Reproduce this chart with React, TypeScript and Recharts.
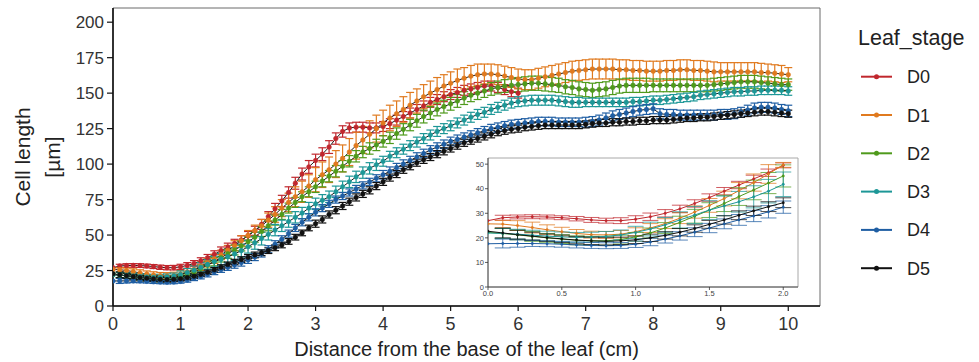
import React from 'react';
import { LineChart, Line, XAxis, YAxis, ErrorBar, ReferenceArea } from 'recharts';

// leaf stages and their colours
const stages = ['D0', 'D1', 'D2', 'D3', 'D4', 'D5'];
const colors = ['#c0272d', '#e07a1f', '#4f9a1c', '#1d9797', '#1f5ea3', '#111111'];

// main panel: cell length (µm) every 0.1 cm from the leaf base
const d0 = [
  27, 28.2, 28.5, 28.6, 28.5, 28.2, 27.8, 27.3, 27.0, 27.0,
  27.6, 28.6, 30.0, 31.8, 34.0, 36.4, 39.0, 41.5, 44.0, 46.5,
  49.5, 53, 57.5, 63, 68.5, 74, 80, 86.5, 93, 98,
  102.5, 107, 112, 118, 123, 125.5, 126, 126, 125.5, 125.5,
  126.5, 128.5, 131, 133.5, 136, 138.5, 141, 143.5, 145.5, 147.5,
  149, 150.5, 152, 153, 154, 155, 155, 154, 152.5, 151,
  150,
];
const d1 = [
  25.7, 25.6, 25, 24.2, 23.3, 22.5, 21.8, 21.3, 21.2, 21.5,
  22.5, 24, 25.8, 28, 30.5, 33.2, 36, 39.2, 42.5, 46,
  49.7, 53, 56.5, 60.5, 64.5, 69, 73, 77, 80.5, 84.5,
  89, 92.5, 96, 100, 104, 108.5, 113, 117, 121, 125,
  129, 132.5, 135.5, 138.5, 141.5, 144.5, 147.5, 150, 152.5, 155,
  157, 159, 160.5, 162, 163, 163.5, 163.5, 163, 162, 161,
  160, 159.5, 159.5, 160.5, 161.5, 162.5, 163.5, 164.5, 165.5, 166,
  166.5, 167, 167, 167, 167, 166.5, 166.5, 166, 166, 165.5,
  165.5, 165.5, 166, 166, 166.5, 166.5, 166, 166, 165.5, 165,
  165, 165, 165, 165, 165, 165, 164.5, 164.5, 164, 163.5,
  163,
];
const d2 = [
  22.2, 21.8, 21.2, 20.6, 20, 19.5, 19, 18.8, 18.8, 19.3,
  20.4, 22, 24, 26.3, 28.8, 31.3, 34, 36.8, 39.5, 42.3,
  45.2, 48.5, 52.5, 56.5, 60.5, 64.5, 69, 73, 77, 80.5,
  84, 88, 91.5, 95, 98.5, 102, 105.5, 108.5, 111, 113.5,
  116, 118.5, 121.5, 124.5, 127.5, 130.5, 133.5, 136, 138.5, 140.5,
  142.5, 144.5, 146.5, 148.5, 150, 151.5, 153, 154, 155, 155.5,
  156, 156.5, 157, 157, 156.5, 156, 155.5, 154.5, 154, 153,
  152.5, 152, 152.5, 153, 154, 155, 155.5, 155.5, 155.5, 155.5,
  155.5, 155.5, 155.5, 155.5, 155.5, 155.5, 155.5, 155.5, 155.5, 156,
  156.5, 157, 157.5, 158, 158, 158, 157.5, 157, 156.5, 156,
  156,
];
const d3 = [
  22, 21.8, 21.5, 21.1, 20.7, 20.4, 20.2, 20.3, 20.6, 21.2,
  22.2, 23.6, 25.3, 27.3, 29.3, 31.3, 33, 34.7, 36.7, 39,
  41.8, 44.5, 47.5, 50.5, 53.5, 56.5, 59.5, 62.5, 65.5, 69,
  72, 74.5, 77, 80.5, 84, 87.5, 91, 94, 97, 99.5,
  102, 105.5, 108, 110.5, 113, 115.5, 118, 120.5, 123, 125,
  127, 129, 131, 133, 135, 136.5, 138.5, 140, 141.5, 143,
  144, 144.5, 145, 145, 145, 145, 144.5, 144, 143.5, 143.5,
  143.5, 143.5, 143.5, 143.5, 143.5, 143.5, 143.5, 144, 144, 144.5,
  145, 145, 145.5, 146, 146.5, 147, 147.5, 148.5, 149, 149.5,
  150, 150.5, 151, 151, 151.5, 151.5, 152, 152, 152, 152,
  151.5,
];
const d4 = [
  17.6, 17.7, 17.7, 17.7, 17.6, 17.4, 17.1, 16.9, 16.8, 16.9,
  17.4, 18.3, 19.5, 20.8, 22.3, 24, 25.7, 27.3, 28.9, 30.6,
  32.5, 34.5, 37, 40, 43.5, 47, 51, 55, 59, 62.5,
  66, 69, 72, 75, 77.5, 80, 82.5, 85, 87.5, 90,
  92.5, 95, 97.5, 100, 102.5, 105, 107.5, 110, 112, 114,
  116, 117.5, 119, 120.5, 122, 123.5, 125, 126, 127, 128,
  128.5, 129, 129.5, 130, 130, 130, 129.5, 129.5, 129.5, 129.5,
  129.5, 130, 131, 132.5, 134, 135, 136, 137, 138, 138.5,
  139, 135.5, 135, 135, 134.5, 134.5, 134.5, 134.5, 134.5, 134.5,
  135, 135, 135.5, 136.5, 138, 139.5, 140, 140, 139.5, 138.5,
  137.5,
];
const d5 = [
  22.7, 22, 21.3, 20.7, 20.1, 19.6, 19.1, 18.8, 18.6, 18.8,
  19.2, 20, 21, 22.3, 23.8, 25.5, 27.3, 29.2, 31, 32.7,
  34.3, 36, 37.5, 39, 41, 43, 45.5, 48.5, 51.5, 55,
  58, 61, 64.5, 67.5, 70.5, 73.5, 76.5, 79, 81.5, 84.5,
  87.5, 90.5, 93, 96, 98.5, 101, 103, 105, 107, 109,
  111, 113, 115, 116.5, 118, 119.5, 121, 122.5, 123.5, 124.5,
  125, 126, 126.5, 127, 127.5, 127.5, 127.5, 127.5, 127.5, 127.5,
  128, 128.5, 129, 129, 129.5, 129.5, 130, 130, 130.5, 130.5,
  131, 131, 131, 131.5, 132, 132.5, 132.5, 133, 133, 133.5,
  134, 134.5, 135, 135.5, 136, 136.5, 137, 137, 136.5, 136,
  135.5,
];

// main panel: standard errors
const e0 = [
  null, 1.2, 1.3, 1.3, 1.3, 1.3, 1.4, 1.5, 1.5, 1.6,
  1.8, 2, 2, 2.2, 2.3, 2.5, 2.6, 2.8, 3, 3,
  3, 3.2, 3.5, 3.5, 3.8, 4, 4, 4.2, 4.2, 4.5,
  4.5, 4.5, 4.5, 4, 4, 3.5, 3.5, 3.5, 3.5, 3.5,
  3.5, 3.5, 3.5, 3.5, 3.5, 3.5, 3.5, 3.5, 3.5, 3.5,
  3.5, 3.5, 3.5, 3.5, 3.5, 3.5, 3.5, 3.5, 3.5, 3.5,
  3.5,
];
const e1 = [
  null, 1.5, 1.8, 2, 2.2, 2.2, 2.3, 2.3, 2.3, 2.3,
  2.5, 2.5, 2.8, 3, 3, 3.2, 3.3, 3.5, 3.5, 3.5,
  3.5, 4, 4.5, 5, 5.5, 6, 6.5, 7, 7.5, 8,
  8.5, 9, 9, 9.5, 9.5, 9.5, 9.5, 9.5, 9.5, 9.5,
  9, 9, 9, 9, 9, 8.5, 8.5, 8.5, 8.5, 8,
  8, 8, 7.5, 7.5, 7.5, 7, 7, 7, 7, 7,
  7, 7, 7, 7, 7, 7, 7, 7, 7, 7,
  7, 7, 7, 7, 7, 7, 7, 7, 7, 7,
  7, 7, 7, 7, 7, 7, 7, 7, 7, 7,
  6.5, 6.5, 6.5, 6.5, 6.5, 6.5, 6.5, 6, 6, 6,
  5,
];
const e2 = [
  null, 1.8, 1.8, 1.8, 1.8, 1.8, 1.8, 1.8, 1.8, 1.8,
  2, 2, 2.2, 2.5, 2.8, 3, 3, 3.2, 3.5, 3.5,
  3.5, 3.5, 3.5, 3.5, 3.5, 3.5, 3.5, 3.5, 3.5, 3.5,
  4, 4, 4, 4, 4, 4, 4, 4, 4, 4,
  4, 4, 4, 4, 4, 4.5, 4.5, 4.5, 4.5, 4.5,
  4.5, 4.5, 4.5, 4.5, 4.5, 4.5, 4.5, 4.5, 4.5, 4.5,
  5, 5, 5, 5, 5, 5, 5, 5, 5, 5,
  5, 5, 5, 5, 5, 5, 5, 5, 5, 5,
  4.5, 4.5, 4.5, 4.5, 4.5, 4.5, 4.5, 4.5, 4.5, 4.5,
  4.5, 4.5, 4.5, 4.5, 4.5, 4.5, 4.5, 4.5, 4.5, 4.5,
  4,
];
const e3 = [
  null, 2, 2, 2, 2, 2, 2, 2, 2, 2,
  2.5, 2.8, 3, 3.3, 3.5, 3.8, 4, 4.2, 4.5, 4.5,
  4.5, 4.5, 4.5, 4, 4, 4, 4, 4, 4, 4,
  4, 4, 4, 4, 4, 4, 4, 4, 4, 4,
  3.5, 3.5, 3.5, 3.5, 3.5, 3.5, 3.5, 3.5, 3.5, 3.5,
  3.5, 3.5, 3.5, 3.5, 3.5, 3.5, 3.5, 3.5, 3.5, 3.5,
  3.5, 3.5, 3.5, 3.5, 3.5, 3.5, 3.5, 3.5, 3.5, 3.5,
  3, 3, 3, 3, 3, 3, 3, 3, 3, 3,
  3, 3, 3, 3, 3, 3, 3, 3, 3, 3,
  3, 3, 3, 3, 3, 3, 3, 3, 3, 3,
  3,
];
const e4 = [
  null, 1.8, 1.5, 1.2, 1.2, 1.2, 1.2, 1.2, 1.2, 1.2,
  1.3, 1.5, 1.6, 1.7, 1.8, 1.9, 2, 2.2, 2.3, 2.5,
  2.5, 2.5, 2.5, 2.5, 2.5, 2.5, 2.5, 2.5, 2.5, 2.5,
  2.5, 2.5, 2.5, 2.5, 2.5, 2.5, 2.5, 2.5, 2.5, 2.5,
  3, 3, 3, 3, 3, 3, 3, 3, 3, 3,
  3, 3, 3, 3, 3, 3, 3, 3, 3, 3,
  3, 3, 3, 3, 3, 3, 3, 3, 3, 3,
  3.5, 3.5, 3.5, 3.5, 3.5, 3.5, 3.5, 3.5, 3.5, 3.5,
  3.5, 3.5, 3.5, 3.5, 3.5, 3.5, 3.5, 3.5, 3.5, 3.5,
  3.5, 3.5, 3.5, 3.5, 3.5, 3.5, 3.5, 3.5, 3.5, 3.5,
  4,
];
const e5 = [
  null, 2, 1.8, 1.6, 1.5, 1.5, 1.5, 1.5, 1.5, 1.5,
  1.5, 1.5, 1.5, 1.5, 1.5, 1.6, 1.7, 1.8, 1.9, 2,
  2, 2, 2, 2, 2, 2, 2, 2, 2, 2,
  2.5, 2.5, 2.5, 2.5, 2.5, 2.5, 2.5, 2.5, 2.5, 2.5,
  2.5, 2.5, 2.5, 2.5, 2.5, 2.5, 2.5, 2.5, 2.5, 2.5,
  2.5, 2.5, 2.5, 2.5, 2.5, 2.5, 2.5, 2.5, 2.5, 2.5,
  2.5, 2.5, 2.5, 2.5, 2.5, 2.5, 2.5, 2.5, 2.5, 2.5,
  2.5, 2.5, 2.5, 2.5, 2.5, 2.5, 2.5, 2.5, 2.5, 2.5,
  2.5, 2.5, 2.5, 2.5, 2.5, 2.5, 2.5, 2.5, 2.5, 2.5,
  2.5, 2.5, 2.5, 2.5, 2.5, 2.5, 2.5, 2.5, 2.5, 2.5,
  2.5,
];

// inset: first 2 cm, every 0.1 cm
const in0 = [27, 28.2, 28.5, 28.6, 28.5, 28.2, 27.8, 27.3, 27.0, 27.0, 27.6, 28.6, 30.0, 31.8, 34.0, 36.4, 39.0, 41.5, 44.0, 46.5, 49.5];
const in1 = [25.7, 25.6, 25, 24.2, 23.3, 22.5, 21.8, 21.3, 21.2, 21.5, 22.5, 24, 25.8, 28, 30.5, 33.2, 36, 39.2, 42.5, 46, 49.7];
const in2 = [22.2, 21.8, 21.2, 20.6, 20, 19.5, 19, 18.8, 18.8, 19.3, 20.4, 22, 24, 26.3, 28.8, 31.3, 34, 36.8, 39.5, 42.3, 45.2];
const in3 = [22, 21.8, 21.5, 21.1, 20.7, 20.4, 20.2, 20.3, 20.6, 21.2, 22.2, 23.6, 25.3, 27.3, 29.3, 31.3, 33, 34.7, 36.7, 39, 41.8];
const in4 = [17.6, 17.7, 17.7, 17.7, 17.6, 17.4, 17.1, 16.9, 16.8, 16.9, 17.4, 18.3, 19.5, 20.8, 22.3, 24, 25.7, 27.3, 28.9, 30.6, 32.5];
const in5 = [22.7, 22, 21.3, 20.7, 20.1, 19.6, 19.1, 18.8, 18.6, 18.8, 19.2, 20, 21, 22.3, 23.8, 25.5, 27.3, 29.2, 31, 32.7, 34.3];

const ie0 = [null, 1, 0.8, 0.8, 0.8, 0.8, 0.9, 1, 1, 1.2, 1.4, 1.5, 1.5, 1.5, 1.5, 1.5, 1.5, 1.5, 1.5, 1.5, 1];
const ie1 = [null, 1.5, 2, 2.2, 2, 1.8, 1.6, 1.4, 1.4, 1.5, 1.6, 1.8, 2, 2.2, 2.5, 2.8, 3, 3.3, 3.5, 3.8, 1];
const ie2 = [null, 2, 2, 2, 1.8, 1.8, 1.8, 1.8, 1.8, 1.8, 1.8, 2, 2.2, 2.5, 2.8, 3, 3.3, 3.6, 4, 4.3, 4.5];
const ie3 = [null, 2, 2, 2, 2, 2, 2, 2, 2, 2, 2.5, 2.8, 3, 3.3, 3.5, 3.8, 4, 4.2, 4.5, 4.8, 5];
const ie4 = [null, 1.8, 1.5, 1.2, 1.2, 1.2, 1.2, 1.2, 1.2, 1.2, 1.3, 1.5, 1.6, 1.7, 1.8, 1.9, 2, 2.2, 2.3, 2.5, 2.5];
const ie5 = [null, 2, 1.8, 1.6, 1.5, 1.5, 1.5, 1.5, 1.5, 1.5, 1.5, 1.5, 1.5, 1.5, 1.5, 1.6, 1.7, 1.8, 1.9, 2, 2];

const xTicks = [0, 1, 2, 3, 4, 5, 6, 7, 8, 9, 10];
const yTicks = [0, 25, 50, 75, 100, 125, 150, 175, 200];
const insetXTicks = [0, 0.5, 1, 1.5, 2];
const insetYTicks = [0, 10, 20, 30, 40, 50];

const mainValues = [d0, d1, d2, d3, d4, d5];
const mainErrors = [e0, e1, e2, e3, e4, e5];
const insetValues = [in0, in1, in2, in3, in4, in5];
const insetErrors = [ie0, ie1, ie2, ie3, ie4, ie5];

const buildRows = (values: number[][], errors: (number | null)[][]) =>
  values[1].map((_, i) => {
    const row: Record<string, number | null> = { x: i / 10 };
    values.forEach((s, k) => {
      if (i < s.length) {
        row['v' + k] = s[i];
        row['e' + k] = errors[k][i];
      }
    });
    return row;
  });

const mainData = buildRows(mainValues, mainErrors);
const insetData = buildRows(insetValues, insetErrors);

const font = '"Liberation Sans", Arial, sans-serif';

export default function App() {
  return (
    <div style={{ position: 'absolute', left: 0, top: 0, width: 979, height: 362, background: '#fff', fontFamily: font }}>
      <LineChart width={830} height={362} data={mainData} margin={{ top: 8, right: 10, left: 0, bottom: 0 }}>
        <ReferenceArea x1={0} x2={10.47} y1={0} y2={210} fill="none" stroke="#6b6b6b" strokeWidth={1} />
        <XAxis
          type="number"
          dataKey="x"
          domain={[0, 10.47]}
          ticks={xTicks}
          allowDataOverflow
          height={56}
          tickSize={5}
          tickMargin={6}
          axisLine={{ stroke: '#111', strokeWidth: 1.6 }}
          tickLine={{ stroke: '#111', strokeWidth: 1.2 }}
          tick={{ fontSize: 18, fill: '#333', fontFamily: font }}
          label={{ value: 'Distance from the base of the leaf (cm)', position: 'insideBottom', offset: 6, fontSize: 20, fill: '#222', fontFamily: font }}
        />
        <YAxis
          type="number"
          domain={[0, 210]}
          ticks={yTicks}
          allowDataOverflow
          width={113}
          tickSize={6}
          tickMargin={3}
          axisLine={{ stroke: '#111', strokeWidth: 1.6 }}
          tickLine={{ stroke: '#111', strokeWidth: 1.2 }}
          tick={{ fontSize: 17, fill: '#333', fontFamily: font }}
        />
        {stages.map((name, k) => (
          <Line
            key={name}
            dataKey={'v' + k}
            name={name}
            type="linear"
            stroke="#1a1a1a"
            strokeWidth={1}
            dot={{ r: 2.3, fill: colors[k], stroke: colors[k], strokeWidth: 0.6 }}
            activeDot={false}
            isAnimationActive={false}
          >
            <ErrorBar dataKey={'e' + k} direction="y" width={4} stroke={colors[k]} strokeWidth={1.2} isAnimationActive={false} />
          </Line>
        ))}
      </LineChart>

      <div style={{ position: 'absolute', left: 458, top: 150 }}>
        <LineChart width={350} height={152} data={insetData} margin={{ top: 8, right: 10, left: 0, bottom: 0 }}>
          <ReferenceArea x1={0} x2={2.1} y1={0} y2={52.5} fill="#fff" fillOpacity={1} stroke="#a8a8a8" strokeWidth={1} />
          <XAxis
            type="number"
            dataKey="x"
            domain={[0, 2.1]}
            ticks={insetXTicks}
            allowDataOverflow
            height={15}
            tickSize={3}
            tickMargin={1}
            tickFormatter={(v: number) => v.toFixed(1)}
            axisLine={{ stroke: '#333', strokeWidth: 0.8 }}
            tickLine={{ stroke: '#333', strokeWidth: 0.8 }}
            tick={{ fontSize: 7.5, fill: '#444', fontFamily: font }}
          />
          <YAxis
            type="number"
            domain={[0, 52.5]}
            ticks={insetYTicks}
            allowDataOverflow
            width={30}
            tickSize={3}
            tickMargin={1}
            axisLine={{ stroke: '#333', strokeWidth: 0.8 }}
            tickLine={{ stroke: '#333', strokeWidth: 0.8 }}
            tick={{ fontSize: 7.5, fill: '#444', fontFamily: font }}
          />
          {stages.map((name, k) => (
            <Line
              key={name}
              dataKey={'v' + k}
              name={name}
              type="linear"
              stroke={colors[k]}
              strokeWidth={1}
              dot={{ r: 1.2, fill: colors[k], stroke: colors[k], strokeWidth: 0.4 }}
              activeDot={false}
              isAnimationActive={false}
            >
              <ErrorBar dataKey={'e' + k} direction="y" width={8} stroke={colors[k]} strokeOpacity={0.75} strokeWidth={1} isAnimationActive={false} />
            </Line>
          ))}
        </LineChart>
      </div>

      <svg width={979} height={362} style={{ position: 'absolute', left: 0, top: 0, pointerEvents: 'none' }}>
        <text transform="translate(30 157) rotate(-90)" textAnchor="middle" fontSize={21} fill="#222" fontFamily={font}>
          Cell length
        </text>
        <text transform="translate(60 157) rotate(-90)" textAnchor="middle" fontSize={21} fill="#222" fontFamily={font}>
          [µm]
        </text>
        <text x={858} y={45} fontSize={21.5} fill="#222" fontFamily={font}>
          Leaf_stage
        </text>
        {stages.map((name, k) => {
          const y = 76.7 + k * 38.3;
          return (
            <g key={name}>
              <line x1={861} x2={892} y1={y} y2={y} stroke={colors[k]} strokeWidth={2} />
              <circle cx={876.5} cy={y} r={2.5} fill={colors[k]} />
              <text x={907} y={y + 6.5} fontSize={18} fill="#222" fontFamily={font}>
                {name}
              </text>
            </g>
          );
        })}
      </svg>
    </div>
  );
}
